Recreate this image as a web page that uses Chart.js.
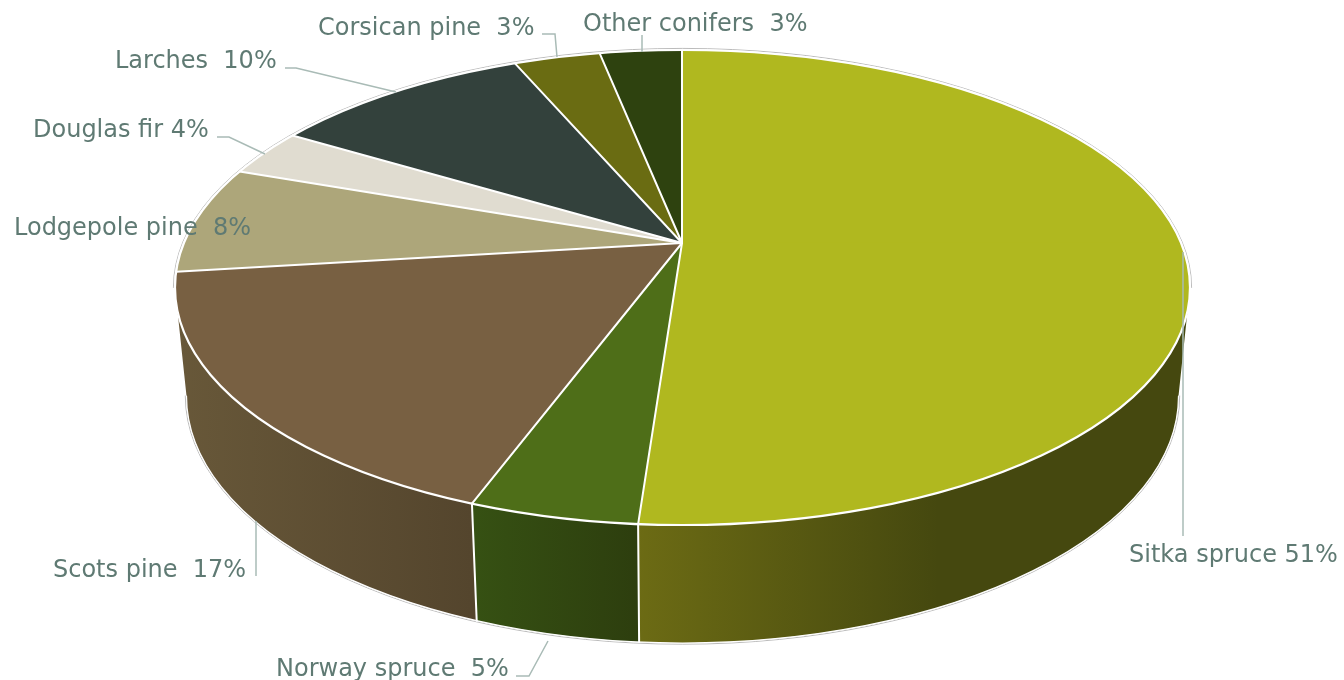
<!DOCTYPE html>
<html>
<head>
<meta charset="utf-8">
<script src="https://cdn.jsdelivr.net/npm/chart.js@4.4.1/dist/chart.umd.min.js"></script>
<style>
html,body{margin:0;padding:0;background:#ffffff;overflow:hidden}
canvas{display:block}
</style>
</head>
<body>
<canvas id="c" width="1344" height="680"></canvas>
<script>
// ---- data ----
const categories = ['Sitka spruce','Norway spruce','Scots pine','Lodgepole pine','Douglas fir','Larches','Corsican pine','Other conifers'];
const shares = [51.4, 5.4, 16.6, 8.0, 3.6, 9.6, 2.8, 2.6];
const labelTexts = ['Sitka spruce 51%','Norway spruce  5%','Scots pine  17%','Lodgepole pine  8%','Douglas fir 4%','Larches  10%','Corsican pine  3%','Other conifers  3%'];

// ---- styles ----
const topColors  = ['#B0B81F','#4E6E18','#786042','#ADA67A','#E0DCD0','#33413C','#6A6C12','#2E420F'];
const sideLight  = ['#6C6B14','#365113','#685839','#8A845F','#B3AFA5','#29332F','#55560E','#25340C'];
const sideDark   = ['#45480F','#2D3E0E','#54452D','#6E6A4C','#8F8C84','#202925','#44450B','#1D290A'];
const textColor = '#5F7A73';
const leaderColor = '#A9BBB6';
const fontSpec = '24px "DejaVu Sans", Verdana, sans-serif';

// ---- layout ----
const W = 1344, H = 680;
const geo = {
  apexX: 682, apexY: 243,
  top:    {cx: 682.5, cy: 287.5, rx: 507.5, ry: 237.5},
  bottom: {cx: 682.5, cy: 396,   rx: 496,   ry: 247},
  fanRx: 540, fanRyUp: 205, fanRyDown: 305
};
const labelPos = [[1129,562],[276,676],[53,577],[14,235],[33,137],[115,68],[318,35],[583,31]];
const leaders = [
  [[1183,536],[1183,252]],
  [[516,676],[529,676],[548,641]],
  [[256,576],[256,521]],
  null,
  [[217,137],[229,137],[265,154]],
  [[285,68],[296,68],[396,92]],
  [[542,34],[555,34],[557,57]],
  [[642,35],[642,52]]
];

function hitTop(theta){
  const s = Math.sin(theta);
  const dx = geo.fanRx*Math.cos(theta);
  const dy = (s<0?geo.fanRyUp:geo.fanRyDown)*s;
  const E = geo.top;
  const px=(geo.apexX-E.cx)/E.rx, py=(geo.apexY-E.cy)/E.ry, qx=dx/E.rx, qy=dy/E.ry;
  const A=qx*qx+qy*qy, B=2*(px*qx+py*qy), C=px*px+py*py-1;
  const k=(-B+Math.sqrt(B*B-4*A*C))/(2*A);
  return {x:geo.apexX+k*dx, y:geo.apexY+k*dy};
}
function paramOf(p){ const E=geo.top; return Math.atan2((p.y-E.cy)/E.ry,(p.x-E.cx)/E.rx); }
function topPt(t){ const E=geo.top; return [E.cx+E.rx*Math.cos(t), E.cy+E.ry*Math.sin(t)]; }
function botPt(t){ const E=geo.bottom; return [E.cx+E.rx*Math.cos(t), E.cy+E.ry*Math.sin(t)]; }

function drawSide(ctx,t0,t1,i){
  const n = Math.max(10, Math.ceil((t1-t0)*80));
  ctx.beginPath();
  for(let k=0;k<=n;k++){ const p=topPt(t0+(t1-t0)*k/n); k?ctx.lineTo(p[0],p[1]):ctx.moveTo(p[0],p[1]); }
  for(let k=n;k>=0;k--){ const p=botPt(t0+(t1-t0)*k/n); ctx.lineTo(p[0],p[1]); }
  ctx.closePath();
  const xl = topPt(t1)[0], xr = topPt(t0)[0];
  const g = ctx.createLinearGradient(xl,0,xl+Math.max(20,Math.min(xr-xl,300)),0);
  g.addColorStop(0, sideLight[i]); g.addColorStop(1, sideDark[i]);
  ctx.fillStyle = g; ctx.fill();
}

const pie3d = {
  id:'pie3d',
  beforeDatasetsDraw(chart){
    const ctx = chart.ctx;
    const arcs = chart.getDatasetMeta(0).data;
    const T = geo.top, Bt = geo.bottom;
    const ranges = [];
    // side walls
    arcs.forEach((arc,i)=>{
      let ts = paramOf(hitTop(arc.startAngle)), te = paramOf(hitTop(arc.endAngle));
      while (te < ts) te += 2*Math.PI;
      [[0,Math.PI],[2*Math.PI,3*Math.PI]].forEach(([lo,hi])=>{
        const t0=Math.max(ts,lo), t1=Math.min(te,hi);
        if (t1>t0) { drawSide(ctx,t0,t1,i); ranges.push([t0,t1]); }
      });
    });
    // top face drawn by the library's arc elements
    const a0 = arcs[0], R = a0.outerRadius;
    [[0, geo.apexY+0.5, geo.fanRyUp],[geo.apexY-0.5, H, geo.fanRyDown]].forEach(([y0,y1,ry])=>{
      ctx.save();
      ctx.beginPath(); ctx.rect(0,y0,W,y1-y0); ctx.clip();
      ctx.beginPath(); ctx.ellipse(T.cx,T.cy,T.rx,T.ry,0,0,2*Math.PI); ctx.clip();
      ctx.translate(geo.apexX, geo.apexY); ctx.scale(geo.fanRx/R, ry/R); ctx.translate(-a0.x,-a0.y);
      arcs.forEach(a=>a.draw(ctx));
      ctx.restore();
    });
    // borders
    ctx.save();
    ctx.lineJoin='round'; ctx.lineCap='round';
    // silhouette grey
    ctx.strokeStyle='rgba(170,170,170,0.8)'; ctx.lineWidth=1;
    ctx.beginPath(); ctx.ellipse(T.cx,T.cy,T.rx+1.6,T.ry+1.6,0,Math.PI,2*Math.PI); ctx.stroke();
    ctx.beginPath(); ctx.ellipse(Bt.cx,Bt.cy,Bt.rx+1.2,Bt.ry+1.2,0,0,Math.PI); ctx.stroke();
    ctx.strokeStyle='#ffffff';
    ctx.lineWidth=1.2;
    ctx.beginPath(); ctx.ellipse(Bt.cx,Bt.cy,Bt.rx,Bt.ry,0,0,Math.PI); ctx.stroke();
    ctx.lineWidth=2;
    arcs.forEach(arc=>{
      const t = paramOf(hitTop(arc.startAngle));
      if (t>0.02 && t<Math.PI-0.02){
        const p=topPt(t), q=botPt(t);
        ctx.beginPath(); ctx.moveTo(p[0],p[1]); ctx.lineTo(q[0],q[1]); ctx.stroke();
      }
    });
    arcs.forEach(arc=>{
      const p = hitTop(arc.startAngle);
      ctx.beginPath(); ctx.moveTo(geo.apexX,geo.apexY); ctx.lineTo(p.x,p.y); ctx.stroke();
    });
    ctx.lineWidth=2.2;
    ctx.beginPath(); ctx.ellipse(T.cx,T.cy,T.rx,T.ry,0,0,2*Math.PI); ctx.stroke();
    ctx.restore();
    return false;
  }
};

const labelsPlugin = {
  id:'pieLabels',
  afterDraw(chart){
    const ctx = chart.ctx;
    ctx.save();
    ctx.strokeStyle = leaderColor; ctx.lineWidth = 1.5;
    leaders.forEach(l=>{
      if(!l) return;
      ctx.beginPath();
      l.forEach((p,k)=> k?ctx.lineTo(p[0],p[1]):ctx.moveTo(p[0],p[1]));
      ctx.stroke();
    });
    ctx.fillStyle = textColor; ctx.font = fontSpec;
    ctx.textAlign='left'; ctx.textBaseline='alphabetic';
    labelTexts.forEach((t,i)=>ctx.fillText(t, labelPos[i][0], labelPos[i][1]));
    ctx.restore();
  }
};

new Chart(document.getElementById('c'), {
  type:'pie',
  data:{labels:categories, datasets:[{data:shares, backgroundColor:topColors, borderWidth:0}]},
  options:{
    responsive:false, animation:false, events:[],
    layout:{padding:{left:20,right:0,top:0,bottom:194}},
    plugins:{legend:{display:false}, tooltip:{enabled:false}}
  },
  plugins:[pie3d, labelsPlugin]
});
</script>
</body>
</html>
